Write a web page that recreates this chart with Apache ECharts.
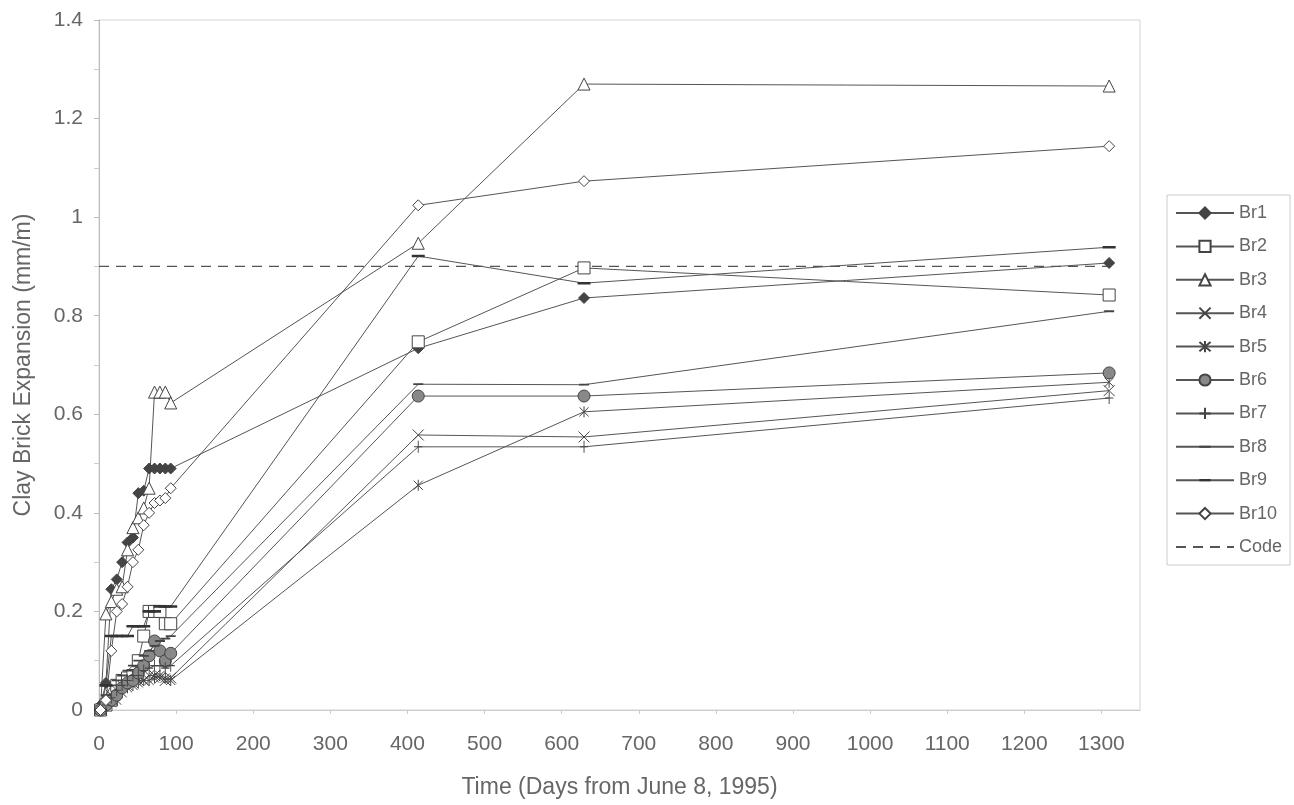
<!DOCTYPE html>
<html>
<head>
<meta charset="utf-8">
<title>Clay Brick Expansion</title>
<script src="https://cdn.jsdelivr.net/npm/echarts@6/dist/echarts.min.js"></script>
<style>
  html, body { margin: 0; padding: 0; background: #fff; }
  #chart { width: 1294px; height: 805px; }
</style>
</head>
<body>
<div id="chart"></div>
<script>
// measurement days (shared by all bricks)
var days = [2, 9, 16, 23, 30, 37, 44, 51, 58, 65, 72, 79, 86, 93, 414, 629, 1310];

var br1 = [0.01, 0.055, 0.245, 0.265, 0.30, 0.34, 0.35, 0.44, 0.445, 0.49, 0.49, 0.49, 0.49, 0.49, 0.734, 0.836, 0.907];
var br2 = [0, 0.01, 0.02, 0.05, 0.06, 0.065, 0.07, 0.10, 0.15, 0.20, 0.20, 0.20, 0.175, 0.175, 0.747, 0.897, 0.842];
var br3 = [0.005, 0.195, 0.22, 0.245, 0.25, 0.325, 0.37, 0.39, 0.41, 0.45, 0.645, 0.645, 0.645, 0.623, 0.947, 1.27, 1.266];
var br4 = [0, 0.02, 0.03, 0.04, 0.05, 0.05, 0.055, 0.06, 0.06, 0.07, 0.07, 0.065, 0.06, 0.065, 0.558, 0.554, 0.648];
var br5 = [0, 0.01, 0.015, 0.02, 0.035, 0.045, 0.05, 0.055, 0.06, 0.06, 0.065, 0.07, 0.065, 0.06, 0.456, 0.605, 0.665];
var br6 = [0, 0.01, 0.02, 0.03, 0.045, 0.055, 0.06, 0.075, 0.09, 0.11, 0.14, 0.12, 0.10, 0.115, 0.637, 0.637, 0.684];
var br7 = [0, 0.01, 0.025, 0.04, 0.05, 0.06, 0.07, 0.07, 0.08, 0.085, 0.09, 0.09, 0.085, 0.09, 0.534, 0.534, 0.633];
var br8 = [0, 0.03, 0.05, 0.06, 0.07, 0.08, 0.09, 0.10, 0.11, 0.12, 0.13, 0.14, 0.145, 0.15, 0.661, 0.660, 0.809];
var br9 = [0, 0.05, 0.15, 0.15, 0.15, 0.15, 0.17, 0.17, 0.17, 0.20, 0.20, 0.21, 0.21, 0.21, 0.921, 0.866, 0.939];
var br10 = [0, 0.02, 0.12, 0.20, 0.215, 0.25, 0.30, 0.325, 0.375, 0.40, 0.42, 0.425, 0.43, 0.45, 1.024, 1.073, 1.144];

// code limit line
var codeDays = [0, 1310];
var codeValues = [0.9, 0.9];

var FONT = 'Liberation Sans, Arial, sans-serif';
var INK = '#444';
var TEXT = '#666';

function pairs(xs, ys) {
  var out = [];
  for (var i = 0; i < xs.length; i++) {
    if (ys[i] !== null) out.push([xs[i], ys[i]]);
  }
  return out;
}

// dash markers kept in a square box so the legend does not stretch them
var DASH_THIN = 'path://M0,0L0.01,0L0,0.01Z M0,4.1L10,4.1L10,5.9L0,5.9Z M0,10L0.01,10L0,10.01Z';
var DASH_THICK = 'path://M0,0L0.01,0L0,0.01Z M0,4.8L12,4.8L12,7.2L0,7.2Z M0,12L0.01,12L0,12.01Z';

// markers: [name, values, symbol, size, fill, border]
var bricks = [
  ['Br1', br1, 'diamond', 11, INK, 1],
  ['Br2', br2, 'rect', 12, '#fff', 1],
  ['Br3', br3, 'triangle', 12, '#fff', 1],
  ['Br4', br4, 'path://M0,0L10,10M10,0L0,10', 11, 'none', 1],
  ['Br5', br5, 'path://M0,0L10,10M10,0L0,10M5,-1L5,11', 11, 'none', 1],
  ['Br6', br6, 'circle', 12, '#888', 1],
  ['Br7', br7, 'path://M5,0L5,12M0,6L10,6', [10, 12], 'none', 1],
  ['Br8', br8, DASH_THIN, 10, INK, 0],
  ['Br9', br9, DASH_THICK, 13, '#333', 0],
  ['Br10', br10, 'diamond', 11, '#fff', 1]
];

var series = bricks.map(function (b) {
  return {
    name: b[0],
    type: 'line',
    data: pairs(days, b[1]),
    symbol: b[2],
    symbolSize: b[3],
    symbolKeepAspect: true,
    showAllSymbol: true,
    itemStyle: { color: b[4], borderColor: INK, borderWidth: b[5] },
    lineStyle: { color: '#555', width: 1 },
    emphasis: { disabled: true },
    z: 3
  };
});

series.push({
  name: 'Code',
  type: 'line',
  data: pairs(codeDays, codeValues),
  symbol: 'circle',
  showSymbol: false,
  itemStyle: { color: 'rgba(0,0,0,0)', borderWidth: 0 },
  lineStyle: { color: '#555', width: 1.2, type: [10, 7] },
  emphasis: { disabled: true },
  z: 2
});

var chart = echarts.init(document.getElementById('chart'));
chart.setOption({
  animation: false,
  backgroundColor: '#fff',
  textStyle: { fontFamily: FONT },
  grid: {
    left: 99, right: 154, top: 20, bottom: 95,
    show: true, borderColor: '#d4d4d4', borderWidth: 1
  },
  legend: {
    orient: 'vertical',
    left: 1167, top: 195,
    padding: [9, 8, 9, 8],
    itemWidth: 58, itemHeight: 14, itemGap: 15.4,
    borderColor: '#ccc', borderWidth: 1,
    textStyle: { fontSize: 18, color: TEXT, fontFamily: FONT },
    data: bricks.map(function (b) { return b[0]; }).concat(['Code'])
  },
  xAxis: {
    type: 'value',
    min: 0, max: 1350, interval: 100,
    name: 'Time (Days from June 8, 1995)',
    nameLocation: 'middle', nameGap: 66,
    nameTextStyle: { fontSize: 23, color: TEXT },
    axisLine: { show: true, lineStyle: { color: '#ccc' } },
    axisTick: { show: true, length: 4, lineStyle: { color: '#ccc' } },
    axisLabel: {
      fontSize: 21, color: TEXT, margin: 24, showMaxLabel: false,
      formatter: function (v) { return String(v); }
    },
    splitLine: { show: false }
  },
  yAxis: {
    type: 'value',
    min: 0, max: 1.4, interval: 0.2,
    name: 'Clay Brick Expansion (mm/m)',
    nameLocation: 'middle', nameGap: 64,
    nameTextStyle: { fontSize: 23, color: TEXT },
    axisLine: { show: true, lineStyle: { color: '#bbb' } },
    axisTick: { show: true, length: 5, lineStyle: { color: '#bbb' } },
    minorTick: { show: true, splitNumber: 2, length: 5, lineStyle: { color: '#ccc' } },
    axisLabel: { fontSize: 21, color: TEXT, margin: 16 },
    splitLine: { show: false }
  },
  series: series
});
</script>
</body>
</html>
